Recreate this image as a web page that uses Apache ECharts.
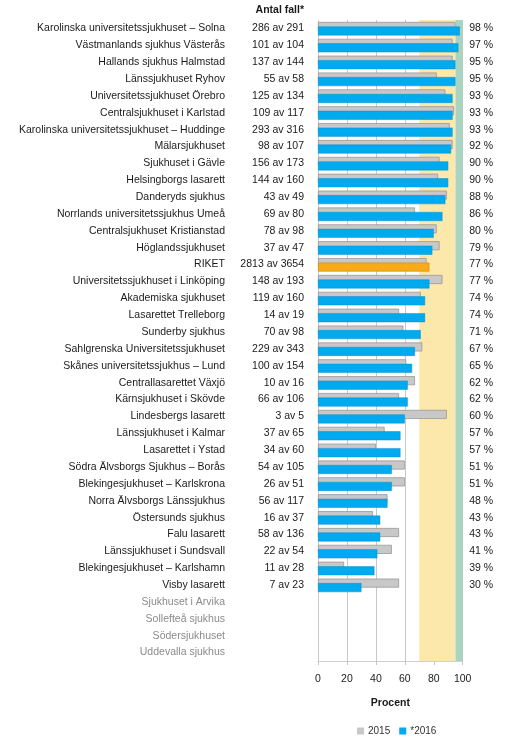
<!DOCTYPE html>
<html><head><meta charset="utf-8">
<script src="https://cdn.jsdelivr.net/npm/echarts@6/dist/echarts.min.js"></script>
<style>html,body{margin:0;padding:0;background:#fff}#c{width:507px;height:745px}</style>
</head><body><div id="c"></div>
<script>
const hospitals = ["Karolinska universitetssjukhuset – Solna","Västmanlands sjukhus Västerås","Hallands sjukhus Halmstad","Länssjukhuset Ryhov","Universitetssjukhuset Örebro","Centralsjukhuset i Karlstad","Karolinska universitetssjukhuset – Huddinge","Mälarsjukhuset","Sjukhuset i Gävle","Helsingborgs lasarett","Danderyds sjukhus","Norrlands universitetssjukhus Umeå","Centralsjukhuset Kristianstad","Höglandssjukhuset","RIKET","Universitetssjukhuset i Linköping","Akademiska sjukhuset","Lasarettet Trelleborg","Sunderby sjukhus","Sahlgrenska Universitetssjukhuset","Skånes universitetssjukhus – Lund","Centrallasarettet Växjö","Kärnsjukhuset i Skövde","Lindesbergs lasarett","Länssjukhuset i Kalmar","Lasarettet i Ystad","Södra Älvsborgs Sjukhus – Borås","Blekingesjukhuset – Karlskrona","Norra Älvsborgs Länssjukhus","Östersunds sjukhus","Falu lasarett","Länssjukhuset i Sundsvall","Blekingesjukhuset – Karlshamn","Visby lasarett","Sjukhuset i Arvika","Sollefteå sjukhus","Södersjukhuset","Uddevalla sjukhus"];
const cases = ["286 av 291","101 av 104","137 av 144","55 av 58","125 av 134","109 av 117","293 av 316","98 av 107","156 av 173","144 av 160","43 av 49","69 av 80","78 av 98","37 av 47","2813 av 3654","148 av 193","119 av 160","14 av 19","70 av 98","229 av 343","100 av 154","10 av 16","66 av 106","3 av 5","37 av 65","34 av 60","54 av 105","26 av 51","56 av 117","16 av 37","58 av 136","22 av 54","11 av 28","7 av 23","","","",""];
const values2016 = [98,97,95,95,93,93,93,92,90,90,88,86,80,79,77,77,74,74,71,67,65,62,62,60,57,57,51,51,48,43,43,41,39,30,null,null,null,null];
const values2015 = [95,93,93,82,88,94,91,93,84,83,89,67,82,84,75,86,71,56,59,72,61,67,56,89,46,40,60,60,48,38,56,51,18,56,null,null,null,null];
const xTicks = [0,20,40,60,80,100];
const targetLow = [70,95];
const targetHigh = [95,100];

const FONT = 'Liberation Sans, Arial, sans-serif';
const TXT = '#1a1a1a';
const emptyRow = v => v === null;
const catData = hospitals.map((h,i)=>({value:h,textStyle:{color: emptyRow(values2016[i]) ? '#8a8a8a' : TXT}}));
const pctLabels = values2016.map(v => v===null ? '' : v + ' %');
const blueData = values2016.map((v,i)=> hospitals[i]==='RIKET'
  ? {value:v,itemStyle:{color:'#f9ab17',borderColor:'#d9900a',borderWidth:0.7}} : v);

const chart = echarts.init(document.getElementById('c'));
chart.setOption({
  animation:false,
  textStyle:{fontFamily:FONT},
  graphic:[{type:'text',right:203,top:5,style:{text:'Antal fall*',font:'bold 10.5px '+FONT,fill:TXT,textAlign:'right'}}],
  legend:{left:352,top:721,itemWidth:7,itemHeight:7,itemGap:9,icon:'rect',
    textStyle:{fontSize:10,color:'#333',padding:[0,0,0,-1]},
    data:[{name:'2015',itemStyle:{color:'#c8c8c8',borderWidth:0}},{name:'*2016',itemStyle:{color:'#00aaee',borderWidth:0}}]},
  grid:{left:318,right:44.3,top:20,bottom:84},
  xAxis:{type:'value',min:0,max:100,interval:20,z:1,
    name:'Procent',nameLocation:'middle',nameGap:37,
    nameTextStyle:{fontWeight:'bold',fontSize:10.5,color:TXT},
    axisLine:{show:true,lineStyle:{color:'#d0d0d0'}},
    axisTick:{show:true,length:4,lineStyle:{color:'#c8c8c8'}},
    axisLabel:{fontSize:10.5,color:TXT,margin:13,formatter:v=>xTicks.includes(v)?String(v):''},
    splitLine:{show:true,lineStyle:{color:'#c8c8c8',width:1}}},
  yAxis:[
    {type:'category',inverse:true,data:catData,position:'left',
      axisLine:{show:false},axisTick:{show:false},
      axisLabel:{fontSize:10.5,margin:93,color:TXT}},
    {type:'category',inverse:true,data:cases,position:'left',
      axisLine:{show:false},axisTick:{show:false},
      axisLabel:{fontSize:10.5,margin:14,color:TXT}},
    {type:'category',inverse:true,data:pctLabels,position:'right',
      axisLine:{show:false},axisTick:{show:false},
      axisLabel:{fontSize:10.5,margin:6.5,color:TXT}}
  ],
  series:[
    {type:'bar',name:'band',data:[],z:0,silent:true,
      markArea:{silent:true,itemStyle:{opacity:1},data:[
        [{xAxis:targetLow[0],itemStyle:{color:'#fde8ab'}},{xAxis:targetLow[1]}],
        [{xAxis:targetHigh[0],itemStyle:{color:'#a9d4c1'}},{xAxis:targetHigh[1]}]
      ]}},
    {type:'bar',name:'2015',data:values2015,barWidth:9,barGap:'-50%',
      itemStyle:{color:'#c8c8c8',borderColor:'#8f8f8f',borderWidth:0.7}},
    {type:'bar',name:'*2016',data:blueData,barWidth:9,barGap:'-50%',
      itemStyle:{color:'#00aaee',borderColor:'#0a8fd0',borderWidth:0.5}}
  ]
});
</script></body></html>
